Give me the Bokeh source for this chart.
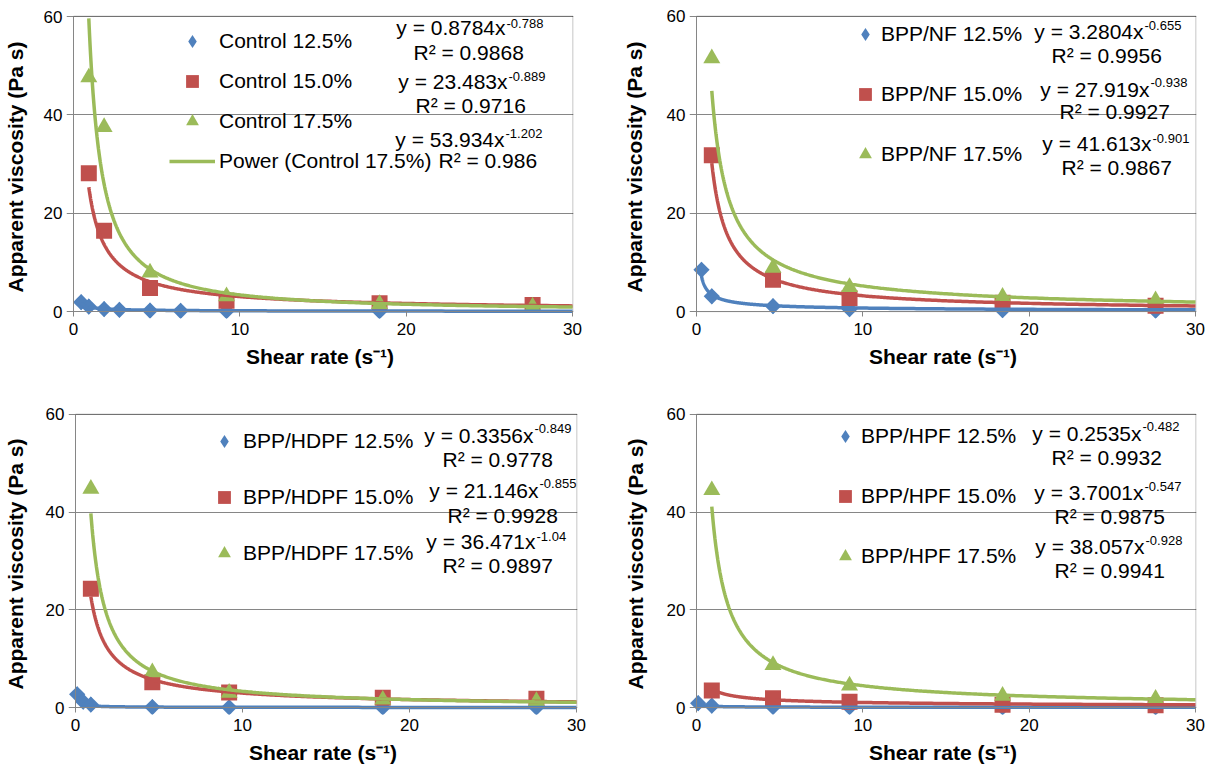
import numpy as np
from bokeh.plotting import figure
from bokeh.models import (Range1d, FixedTicker, Legend, LegendItem, Label, BoxAnnotation,
                          LinearAxis)
from bokeh.layouts import row, column
from bokeh.embed import file_html
from bokeh.resources import INLINE

# ---------------- data ----------------
x_ticks = [0, 10, 20, 30]
y_ticks = [0, 20, 40, 60]
x_label = "Shear rate (s\u207b\u00b9)"
y_label = "Apparent viscosity (Pa s)"

# Control
ctl_names = ["Control 12.5%", "Control 15.0%", "Control 17.5%"]
ctl_x125 = [0.46, 0.92, 1.84, 2.76, 4.6, 6.44, 9.2, 18.4]
ctl_y125 = [1.9, 1.0, 0.5, 0.35, 0.2, 0.15, 0.1, 0.06]
ctl_x150 = [0.92, 1.84, 4.6, 9.2, 18.4, 27.6]
ctl_y150 = [28.1, 16.4, 4.8, 2.2, 1.7, 1.3]
ctl_x175 = [0.92, 1.84, 4.6, 9.2, 18.4, 27.6]
ctl_y175 = [47.6, 37.5, 7.9, 3.1, 1.5, 1.0]
ctl_a = [0.8784, 23.483, 53.934]
ctl_b = [-0.788, -0.889, -1.202]
ctl_r2 = ["0.9868", "0.9716", "0.986"]

# BPP/NF
nf_names = ["BPP/NF 12.5%", "BPP/NF 15.0%", "BPP/NF 17.5%"]
nf_x125 = [0.3, 0.92, 4.6, 9.2, 18.4, 27.6]
nf_y125 = [8.5, 3.1, 1.1, 0.5, 0.3, 0.2]
nf_x150 = [0.92, 4.6, 9.2, 18.4, 27.6]
nf_y150 = [31.8, 6.5, 2.7, 1.8, 1.2]
nf_x175 = [0.92, 4.6, 9.2, 18.4, 27.6]
nf_y175 = [51.5, 8.9, 5.0, 3.0, 2.3]
nf_a = [3.2804, 27.919, 41.613]
nf_b = [-0.655, -0.938, -0.901]
nf_r2 = ["0.9956", "0.9927", "0.9867"]

# BPP/HDPF
hd_names = ["BPP/HDPF 12.5%", "BPP/HDPF 15.0%", "BPP/HDPF 17.5%"]
hd_x125 = [0.1, 0.46, 0.92, 4.6, 9.2, 18.4, 27.6]
hd_y125 = [2.7, 1.2, 0.6, 0.1, 0.05, 0.03, 0.02]
hd_x150 = [0.92, 4.6, 9.2, 18.4, 27.6]
hd_y150 = [24.3, 5.2, 3.1, 2.0, 1.8]
hd_x175 = [0.92, 4.6, 9.2, 18.4, 27.6]
hd_y175 = [44.8, 7.2, 3.0, 1.6, 1.3]
hd_a = [0.3356, 21.146, 36.471]
hd_b = [-0.849, -0.855, -1.04]
hd_r2 = ["0.9778", "0.9928", "0.9897"]

# BPP/HPF
hp_names = ["BPP/HPF 12.5%", "BPP/HPF 15.0%", "BPP/HPF 17.5%"]
hp_x125 = [0.1, 0.92, 4.6, 9.2, 18.4, 27.6]
hp_y125 = [0.9, 0.4, 0.15, 0.1, 0.06, 0.05]
hp_x150 = [0.92, 4.6, 9.2, 18.4, 27.6]
hp_y150 = [3.5, 1.9, 1.2, 0.6, 0.5]
hp_x175 = [0.92, 4.6, 9.2, 18.4, 27.6]
hp_y175 = [44.5, 8.7, 4.5, 2.4, 1.8]
hp_a = [0.2535, 3.7001, 38.057]
hp_b = [-0.482, -0.547, -0.928]
hp_r2 = ["0.9932", "0.9875", "0.9941"]

# ---------------- styles / layout ----------------
COLORS = ["#4F81BD", "#C0504D", "#9BBB59"]
GREY = "#868686"
FONT = "Liberation Sans"
PAD = 7   # px of frame kept outside the left/bottom axes so marks on the axes are not cut
PAD2 = 1  # px of frame kept outside the top/right border

# figure: (width, height, page x, page y); axes box in page px: (x0, y0, x30, y60)
FIG = {
    "tl": (608, 393, 0, 0, (73, 311, 572, 16)),
    "tr": (604, 393, 608, 0, (696, 312, 1195, 12)),
    "bl": (608, 373, 0, 393, (75, 708, 576, 414)),
    "br": (604, 373, 608, 393, (696, 707, 1195, 409)),
}
# legend: (box left page x, first item centre page y, glyph_width, label_standoff, item pitch)
LEG = {
    "tl": (169, 41, 46, 4, 40),
    "tr": (849, 35, 32, -5, 60),
    "bl": (208, 442, 32, 3, 56),
    "br": (829, 436, 32, -5, 60),
}
ITEM_H = 32
# equations: (x end of main text, y main, y exponent, R2 x, R2 y) in page px
EQ = {
    "tl": [(505, 27, 22.5, 413, 51.5), (507, 80.5, 76, 415, 105), (504, 138.5, 132.5, 438, 160)],
    "tr": [(1143, 27, 21.5, 1051, 52), (1149, 86.5, 79.5, 1059, 109), (1151, 141.5, 136, 1061, 165.5)],
    "bl": [(533, 435, 428, 442, 459.5), (538, 490.5, 483.5, 447, 515.5), (535, 541.5, 536, 442, 565.5)],
    "br": [(1141, 428.5, 421.5, 1051, 452.5), (1143, 488.5, 482, 1054, 512.5), (1144, 543.5, 537.5, 1054, 567.5)],
}
YLAB_STANDOFF = {"tl": 14, "tr": 18, "bl": 16, "br": 17}


def style_text_axis(ax):
    ax.axis_line_color = None
    ax.major_tick_line_color = None
    ax.minor_tick_line_color = None
    ax.major_tick_in = 0
    ax.major_tick_out = 0
    ax.major_label_text_font = FONT
    ax.major_label_text_font_size = "17px"
    ax.major_label_text_color = "black"
    ax.axis_label_text_font = FONT
    ax.axis_label_text_font_size = "21px"
    ax.axis_label_text_font_style = "bold"
    ax.axis_label_text_color = "black"


def make_panel(key, names, xs, ys, a, b, r2, power_item=False):
    W, H, ox, oy, (ax0, ay0, ax1, ay1) = FIG[key]
    xmin, xmax = x_ticks[0], x_ticks[-1]
    ymin, ymax = y_ticks[0], y_ticks[-1]
    aw, ah = ax1 - ax0, ay0 - ay1
    xu, yu = (xmax - xmin) / aw, (ymax - ymin) / ah  # data units per px
    fl, fr, ft, fb = ax0 - PAD, ax1 + PAD2, ay1 - PAD2, ay0 + PAD  # frame in page px
    p = figure(width=W, height=H,
               x_range=Range1d(xmin - PAD * xu, xmax + PAD2 * xu),
               y_range=Range1d(ymin - PAD * yu, ymax + PAD2 * yu),
               output_backend="svg", toolbar_location=None,
               min_border_left=fl - ox, min_border_right=ox + W - fr,
               min_border_top=ft - oy, min_border_bottom=oy + H - fb)
    p.background_fill_color = "white"
    p.border_fill_color = "white"
    p.outline_line_color = None

    def to_data(px, py):
        return xmin + (px - ax0) * xu, ymin + (ay0 - py) * yu

    # plot-area border (black, pixel-aligned); grey axes are drawn over it on left/bottom
    p.add_layout(BoxAnnotation(left=xmin, right=xmax + 0.5 * xu, bottom=ymin,
                               top=ymax + 0.5 * yu,
                               fill_color=None, line_color="black", line_width=1,
                               level="underlay"))

    # label-only axes on the frame edges
    p.xaxis.ticker = FixedTicker(ticks=x_ticks)
    p.yaxis.ticker = FixedTicker(ticks=y_ticks)
    p.xaxis.axis_label = x_label
    p.yaxis.axis_label = y_label
    style_text_axis(p.xaxis[0])
    style_text_axis(p.yaxis[0])
    p.xaxis.major_label_standoff = 4
    p.xaxis.axis_label_standoff = 7
    p.yaxis.major_label_standoff = 4
    p.yaxis.axis_label_standoff = YLAB_STANDOFF[key]

    # axis lines + ticks at x=0 / y=0
    for side, loc, tk, bd in (("below", ymin, x_ticks, (xmin, xmax)),
                              ("left", xmin, y_ticks, (ymin, ymax))):
        ax = LinearAxis(fixed_location=loc, ticker=FixedTicker(ticks=tk), bounds=bd,
                        axis_line_color=GREY, major_tick_line_color=GREY,
                        minor_tick_line_color=None, major_tick_in=0, major_tick_out=5,
                        major_label_text_font_size="0px", major_label_text_alpha=0)
        p.add_layout(ax, side)

    p.xgrid.visible = False
    p.ygrid.grid_line_color = GREY
    p.ygrid.grid_line_width = 1
    p.ygrid.bounds = (xmin, xmax)

    # data markers
    dia = p.scatter(xs[0], ys[0], marker="diamond", size=16,
                    fill_color=COLORS[0], line_color=None)  # hidden under the rotated squares
    markers = [("square", np.pi / 4, 11.5), ("square", 0.0, 16), ("triangle", 0.0, 17)]
    pts = []
    for i in range(3):
        m, ang, sz = markers[i]
        r = p.scatter(xs[i], ys[i], marker=m, angle=ang, size=sz,
                      fill_color=COLORS[i], line_color=None)
        pts.append(r)
    # power-law trendlines from the fitted equations
    lines = []
    for i in range(3):
        xf = np.geomspace(xs[i][0], xmax, 400)
        yf = a[i] * xf ** b[i]
        lines.append(p.line(xf, yf, line_color=COLORS[i], line_width=3.5))

    items = [LegendItem(label=names[0], renderers=[dia]),
             LegendItem(label=names[1], renderers=[pts[1]]),
             LegendItem(label=names[2], renderers=[pts[2]])]
    if power_item:
        items.append(LegendItem(label="Power (" + names[2] + ")", renderers=[lines[2]]))
    lx, ly, gw, ls, pitch = LEG[key]
    sp = pitch - ITEM_H
    n = len(items)
    leg_h = n * ITEM_H + (n - 1) * sp
    vx = lx - fl
    vy = fb - (ly - ITEM_H / 2 + leg_h)
    leg = Legend(items=items, location=(vx, vy), glyph_width=gw, glyph_height=ITEM_H,
                 label_height=ITEM_H, label_standoff=ls, spacing=sp, padding=0, margin=0,
                 border_line_color=None, background_fill_alpha=0,
                 label_text_font=FONT, label_text_font_size="21px", label_text_color="black")
    p.add_layout(leg, "center")

    # trendline equations
    for i in range(3):
        xe, ym, yx, rx, ry = EQ[key][i]
        dx, dy = to_data(xe, ym)
        p.add_layout(Label(x=dx, y=dy, text="y = %sx" % a[i], text_align="right",
                           text_baseline="middle", text_font=FONT, text_font_size="21px",
                           text_color="black"))
        dx, dy = to_data(xe + 1, yx)
        p.add_layout(Label(x=dx, y=dy, text="%s" % b[i], text_align="left",
                           text_baseline="middle", text_font=FONT, text_font_size="13px",
                           text_color="black"))
        dx, dy = to_data(rx, ry)
        p.add_layout(Label(x=dx, y=dy, text="R\u00b2 = %s" % r2[i], text_align="left",
                           text_baseline="middle", text_font=FONT, text_font_size="21px",
                           text_color="black"))
    return p


p1 = make_panel("tl", ctl_names, [ctl_x125, ctl_x150, ctl_x175], [ctl_y125, ctl_y150, ctl_y175],
                ctl_a, ctl_b, ctl_r2, power_item=True)
p2 = make_panel("tr", nf_names, [nf_x125, nf_x150, nf_x175], [nf_y125, nf_y150, nf_y175],
                nf_a, nf_b, nf_r2)
p3 = make_panel("bl", hd_names, [hd_x125, hd_x150, hd_x175], [hd_y125, hd_y150, hd_y175],
                hd_a, hd_b, hd_r2)
p4 = make_panel("br", hp_names, [hp_x125, hp_x150, hp_x175], [hp_y125, hp_y150, hp_y175],
                hp_a, hp_b, hp_r2)

layout = column(row(p1, p2), row(p3, p4))
open("out.html", "w").write(file_html(layout, INLINE))
